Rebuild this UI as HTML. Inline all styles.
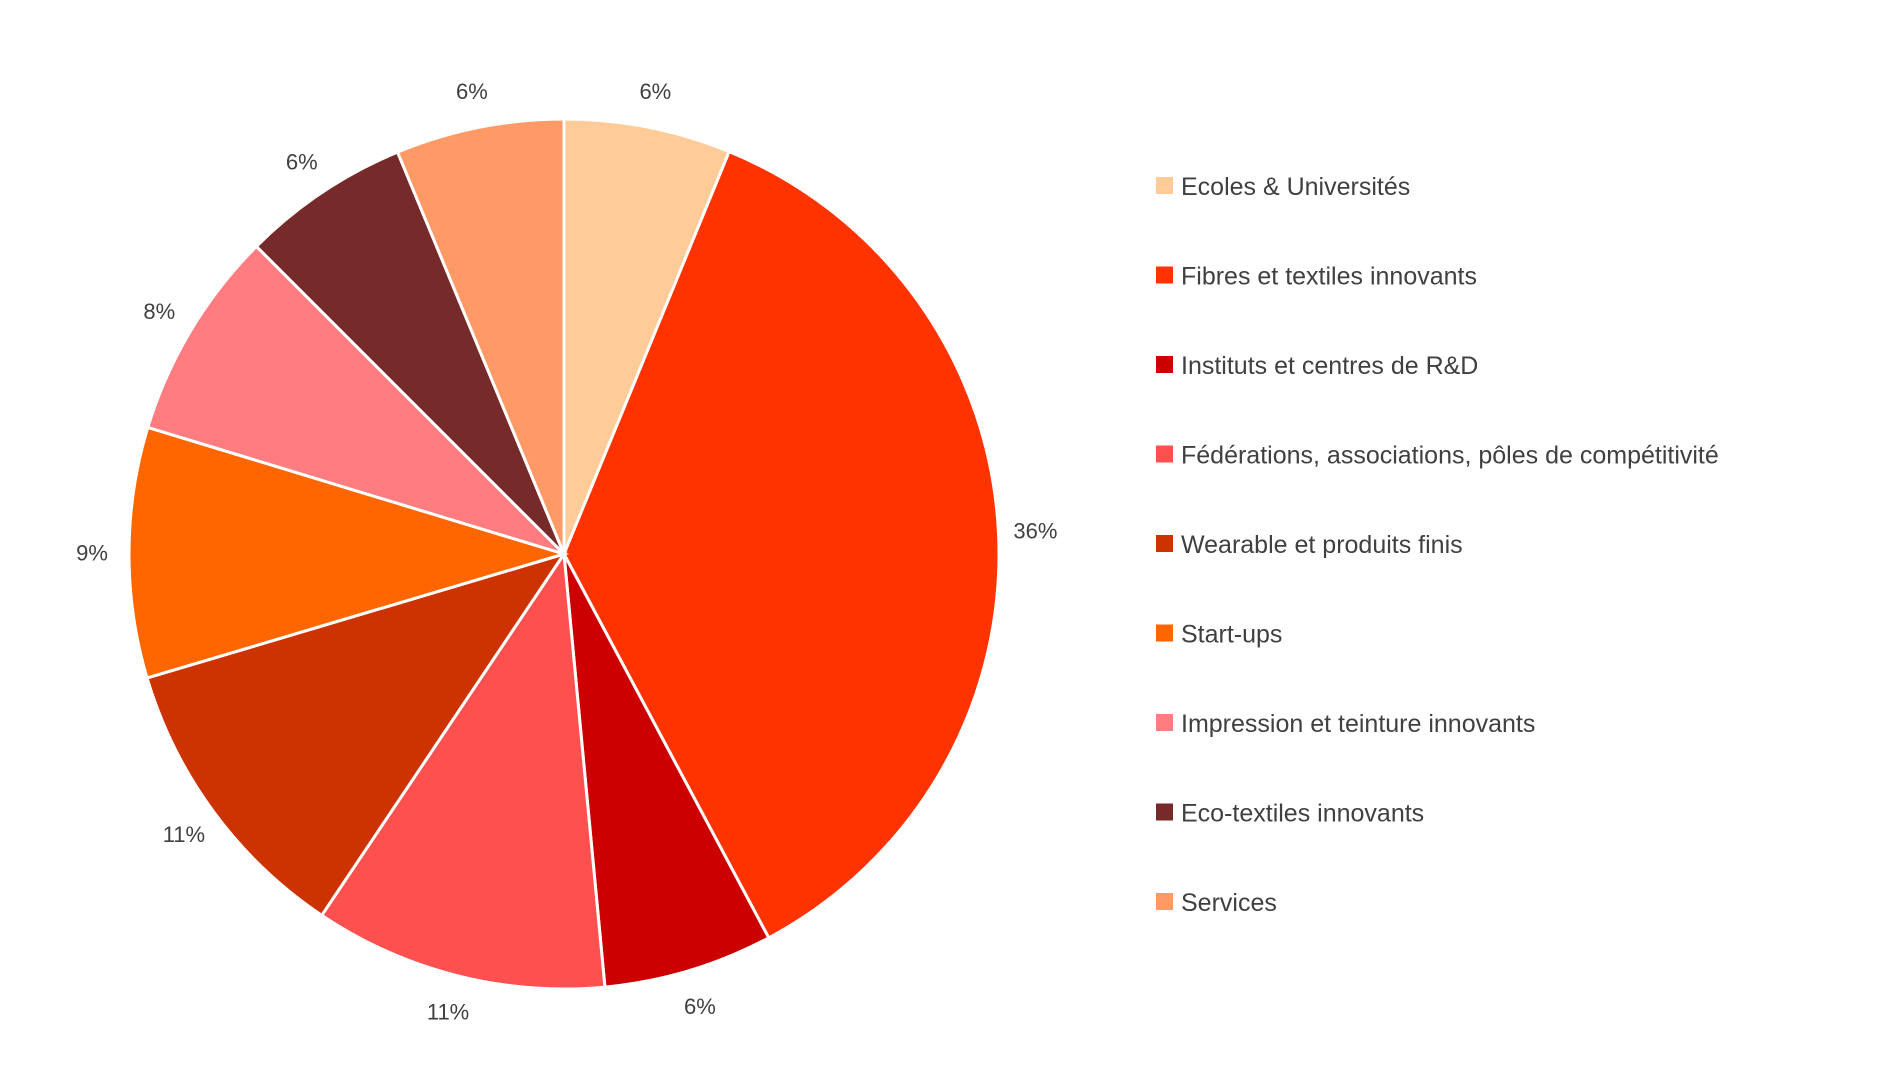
<!DOCTYPE html>
<html><head><meta charset="utf-8"><style>
html,body{margin:0;padding:0;background:#fff;}
svg{display:block;font-family:"Liberation Sans",sans-serif;}
</style></head><body>
<svg id="chart" width="1900" height="1069" viewBox="0 0 1900 1069" xmlns="http://www.w3.org/2000/svg">
<g id="slices"></g>
<g id="labels"></g>
<g id="legend"></g>
</svg>
<script>
const categories = ["Ecoles & Universités","Fibres et textiles innovants","Instituts et centres de R&D","Fédérations, associations, pôles de compétitivité","Wearable et produits finis","Start-ups","Impression et teinture innovants","Eco-textiles innovants","Services"];
const values = [6.2,36,6.3,10.9,11,9.3,7.8,6.25,6.25];
const valueLabels = ["6%","36%","6%","11%","11%","9%","8%","6%","6%"];
const colors = ["#FFCC99","#FF3300","#CC0000","#FF5050","#CC3300","#FF6600","#FF7C80","#772A2A","#FF9966"];
const NS="http://www.w3.org/2000/svg";
const cx=564, cy=554, r=435;
const total=values.reduce((a,b)=>a+b,0);
const gS=document.getElementById('slices'), gL=document.getElementById('labels'), gG=document.getElementById('legend');
function pt(a,rad){return [cx+rad*Math.sin(a), cy-rad*Math.cos(a)];}
let cum=0;
values.forEach((v,i)=>{
  const a0=cum/total*2*Math.PI; cum+=v; const a1=cum/total*2*Math.PI;
  const p0=pt(a0,r), p1=pt(a1,r);
  const large=(a1-a0)>Math.PI?1:0;
  const path=document.createElementNS(NS,'path');
  path.setAttribute('d',`M${cx},${cy} L${p0[0]},${p0[1]} A${r},${r} 0 ${large} 1 ${p1[0]},${p1[1]} Z`);
  path.setAttribute('fill',colors[i]); path.setAttribute('stroke','#fff'); path.setAttribute('stroke-width','3');
  
  
  gS.appendChild(path);
  const am=(a0+a1)/2, lp=pt(am,r*1.085);
  const t=document.createElementNS(NS,'text');
  t.setAttribute('x',lp[0]); t.setAttribute('y',lp[1]+8);
  t.setAttribute('text-anchor','middle'); t.setAttribute('font-size','22'); t.setAttribute('fill','#404040');
  
  
  t.textContent=valueLabels[i]; gL.appendChild(t);
});
categories.forEach((c,i)=>{
  const y=186+i*89.5;
  const g=document.createElementNS(NS,'g');
  
  
  const s=document.createElementNS(NS,'rect');
  s.setAttribute('x',1156); s.setAttribute('y',y-9); s.setAttribute('width',17); s.setAttribute('height',17); s.setAttribute('fill',colors[i]);
  
  
  const t=document.createElementNS(NS,'text');
  t.setAttribute('x',1181); t.setAttribute('y',y+9); t.setAttribute('font-size','25'); t.setAttribute('fill','#404040');
  
  
  t.textContent=c;
  g.appendChild(s); g.appendChild(t); gG.appendChild(g);
});
</script>
</body></html>
